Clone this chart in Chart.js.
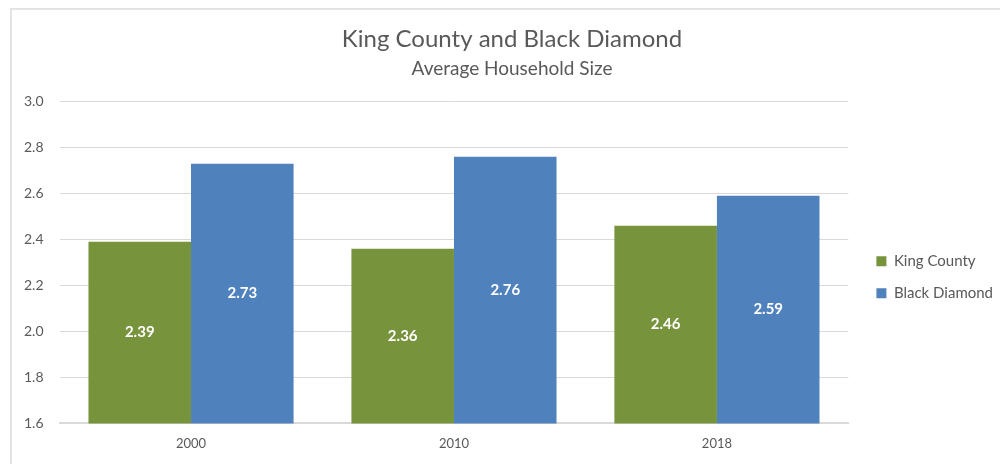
<!DOCTYPE html>
<html>
<head>
<meta charset="utf-8">
<script src="https://cdn.jsdelivr.net/npm/chart.js@4.4.1/dist/chart.umd.min.js"></script>
<style>
  html, body { margin: 0; padding: 0; background: #fff; }
  #frame {
    position: absolute; left: 10px; top: 8px; width: 990px; height: 456px;
    border-left: 2px solid #e3e3e3; border-top: 2px solid #e3e3e3;
  }
  #chart { position: absolute; left: 0; top: 0; }
</style>
</head>
<body>
<div id="frame"></div>
<canvas id="chart" width="1000" height="464"></canvas>
<script>
const years = ['2000', '2010', '2018'];
const kingCounty = [2.39, 2.36, 2.46];
const blackDiamond = [2.73, 2.76, 2.59];
const seriesNames = ['King County', 'Black Diamond'];
const yTicks = [1.6, 1.8, 2.0, 2.2, 2.4, 2.6, 2.8, 3.0];

const FONT = 'Lato, "Open Sans", sans-serif';
const GREY = '#595959';

// white value labels centred in the visible part of each bar
const barLabels = {
  id: 'barLabels',
  afterDatasetsDraw(chart) {
    const ctx = chart.ctx;
    const bottom = chart.chartArea.bottom;
    ctx.save();
    ctx.fillStyle = '#ffffff';
    ctx.font = 'bold 15px ' + FONT;
    ctx.textAlign = 'center';
    ctx.textBaseline = 'middle';
    chart.data.datasets.forEach((ds, i) => {
      chart.getDatasetMeta(i).data.forEach((bar, j) => {
        const yMid = (bar.y + Math.min(bar.base, bottom)) / 2;
        ctx.fillText(Number(ds.data[j]).toFixed(2), bar.x, yMid);
      });
    });
    ctx.restore();
  }
};

// nudge the legend away from the plot and the titles a bit right
const nudgeBoxes = {
  id: 'nudgeBoxes',
  afterLayout(chart) {
    chart.boxes.forEach(box => {
      if (box === chart.legend) { box.left += 11; box.right += 11; }
      else if (box.position === 'top' && !box.axis) { box.left += 24; }
    });
  }
};

new Chart(document.getElementById('chart'), {
  type: 'bar',
  data: {
    labels: years,
    datasets: [
      { label: seriesNames[0], data: kingCounty, backgroundColor: '#77933c' },
      { label: seriesNames[1], data: blackDiamond, backgroundColor: '#4f81bd' }
    ]
  },
  plugins: [nudgeBoxes, barLabels],
  options: {
    responsive: false,
    animation: false,
    categoryPercentage: 0.78,
    barPercentage: 1.0,
    layout: { padding: { left: 8, right: 8, top: 0, bottom: 7 } },
    plugins: {
      title: {
        display: true,
        text: 'King County and Black Diamond',
        color: GREY,
        font: { family: FONT, size: 24, weight: 'normal' },
        padding: { top: 25, bottom: 4 }
      },
      subtitle: {
        display: true,
        text: 'Average Household Size',
        color: GREY,
        font: { family: FONT, size: 19, weight: 'normal' },
        padding: { top: 0, bottom: 21 }
      },
      legend: {
        position: 'right',
        title: { display: true, text: '', padding: 41.5 },
        labels: {
          color: GREY,
          font: { family: FONT, size: 15 },
          boxWidth: 10,
          boxHeight: 10,
          padding: 17
        }
      },
      tooltip: { enabled: false }
    },
    scales: {
      x: {
        grid: { display: false },
        border: { color: '#d9d9d9', width: 2 },
        ticks: { color: GREY, font: { family: FONT, size: 13 }, padding: 5 }
      },
      y: {
        min: yTicks[0],
        max: yTicks[yTicks.length - 1],
        afterBuildTicks(axis) { axis.ticks = yTicks.map(v => ({ value: v })); },
        grid: { color: '#d9d9d9', lineWidth: 1, drawTicks: false },
        border: { display: false },
        ticks: {
          color: GREY,
          font: { family: FONT, size: 14 },
          padding: 16,
          callback: v => Number(v).toFixed(1)
        }
      }
    }
  }
});
</script>
</body>
</html>
